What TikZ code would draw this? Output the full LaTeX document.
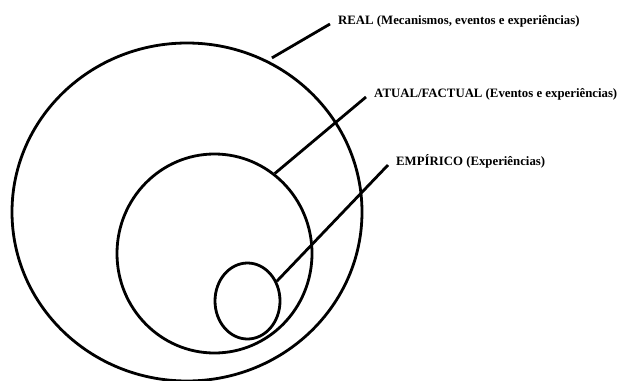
\documentclass[tikz,border=0pt]{standalone}
\usepackage{fontspec}
\setmainfont{Liberation Serif}
\usetikzlibrary{shapes.geometric}
\tikzset{
  ring/.style={ellipse,draw,line width=2.8pt,inner sep=0pt},
  lbl/.style={anchor=base west,inner xsep=8pt,inner ysep=2pt},
  link/.style={line width=2.8pt}
}
\begin{document}
\begin{tikzpicture}[x=1pt,y=-1pt,font=\fontsize{12.8}{15}\selectfont\bfseries]
  \useasboundingbox (0,0) rectangle (617,380);
  \node[ring,minimum width=350pt,minimum height=338pt] (real) at (187,212) {};
  \node[ring,minimum width=195pt,minimum height=199pt] (atual) at (214.5,253.5) {};
  \node[ring,minimum width=65pt,minimum height=76pt] (empirico) at (247.5,301) {};
  \node[lbl] (lreal) at (330,24) {REAL (Mecanismos, eventos e experiências)};
  \node[lbl] (latual) at (366,97) {ATUAL/FACTUAL (Eventos e experiências)};
  \node[lbl] (lempirico) at (388,165) {EMPÍRICO (Experiências)};
  \draw[link,shorten <=5pt] (real.62) -- (lreal.base west);
  \draw[link] (atual.53) -- (latual.base west);
  \draw[link] (empirico.34) -- (lempirico.base west);
\end{tikzpicture}
\end{document}
